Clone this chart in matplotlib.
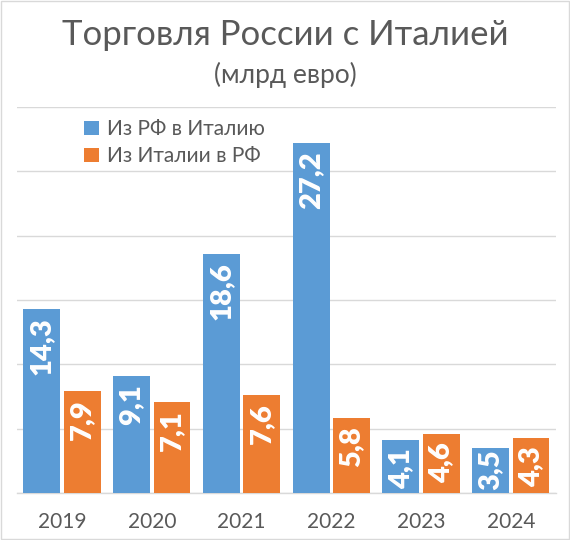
import matplotlib
matplotlib.use("Agg")
import matplotlib.pyplot as plt
import numpy as np

years = ["2019", "2020", "2021", "2022", "2023", "2024"]
export_ru = [14.3, 9.1, 18.6, 27.2, 4.1, 3.5]
import_it = [7.9, 7.1, 7.6, 5.8, 4.6, 4.3]
labels_ru = ["14,3", "9,1", "18,6", "27,2", "4,1", "3,5"]
labels_it = ["7,9", "7,1", "7,6", "5,8", "4,6", "4,3"]
series_names = ["Из РФ в Италию", "Из Италии в РФ"]

BLUE = "#5B9BD5"
ORANGE = "#ED7D31"
GRAY = "#595959"
GRID = "#D9D9D9"

plt.rcParams['font.family'] = ['Lato', 'DejaVu Sans']

fig = plt.figure(figsize=(5.7, 5.4), dpi=100)
ax = fig.add_axes([0.03, 0.087, 0.945, 0.715])

x = np.arange(len(years))
w = 0.41
off = 0.225
ax.bar(x - off, export_ru, w, color=BLUE, label=series_names[0], zorder=3)
ax.bar(x + off, import_it, w, color=ORANGE, label=series_names[1], zorder=3)

ax.set_ylim(0, 30)
ax.set_xlim(-0.5, len(years) - 0.5)
ax.set_yticks(np.arange(0, 31, 5))
ax.yaxis.grid(True, color=GRID, linewidth=1, zorder=0)
ax.tick_params(axis="y", left=False, labelleft=False)
ax.set_xticks(x)
ax.set_xticklabels(years, fontsize=15, color=GRAY)
ax.tick_params(axis="x", length=0, pad=14)
for s in ["top", "right", "left"]:
    ax.spines[s].set_visible(False)
ax.spines["bottom"].set_color(GRID)
ax.spines["bottom"].set_linewidth(1)

texts = []
for xs, vals, labs in ((x - off, export_ru, labels_ru), (x + off, import_it, labels_it)):
    for xi, v, t in zip(xs, vals, labs):
        an = ax.annotate(t, (xi, v), xytext=(0, -6), textcoords="offset points",
                         rotation=90, ha="center", va="top", color="white",
                         fontsize=21, fontweight="heavy", zorder=4)
        texts.append((an, xi))

fig.canvas.draw()
renderer = fig.canvas.get_renderer()
base_px = ax.transData.transform((0, 0))[1]
for an, xi in texts:
    bb = an.get_window_extent(renderer)
    if bb.y0 < base_px + 3:
        an.xy = (xi, 0)
        an.set_va("bottom")
        an.xyann = (0, 2)

leg = ax.legend(loc="upper left", bbox_to_anchor=(0.09, 1.017), frameon=False,
                fontsize=15, handlelength=0.7, handleheight=0.7,
                handletextpad=0.4, labelspacing=0.35)
for t in leg.get_texts():
    t.set_color(GRAY)

fig.text(0.5, 0.935, "Торговля России с Италией", ha="center", va="center",
         fontsize=25, color=GRAY)
fig.text(0.5, 0.861, "(млрд евро)", ha="center", va="center",
         fontsize=19, color=GRAY)

fig.patches.append(plt.Rectangle((0.002, 0.002), 0.996, 0.996, transform=fig.transFigure,
                                 fill=False, edgecolor="#D9D9D9", linewidth=1))

fig.savefig("out.png", dpi=100)
